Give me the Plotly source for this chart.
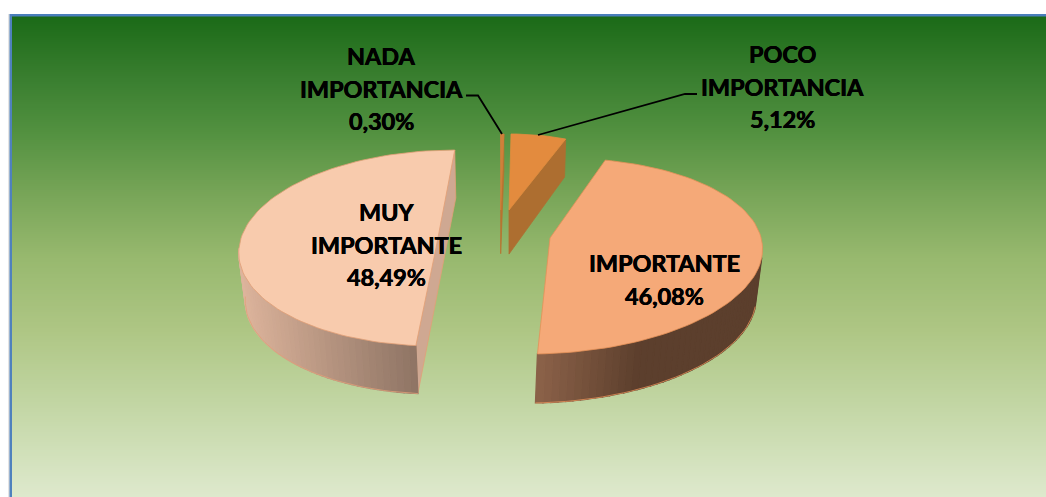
import math
import plotly.graph_objects as go

# ---- data ----
categories = ["NADA<br>IMPORTANCIA", "POCO<br>IMPORTANCIA", "IMPORTANTE", "MUY<br>IMPORTANTE"]
values = [0.30, 5.12, 46.08, 48.49]

# ---- geometry of the drawing (page pixels), one entry per slice ----
# cx, cy, a, b: ellipse; start: angle where the slice's arc starts, clockwise from top
# s: shear; apex: inner point; h0/k: wall depth; dx/sc: wall drift and convergence
geom = {
    "NADA<br>IMPORTANCIA": dict(cx=500.5, cy=232, a=175, b=98, start=0, s=0, apex=(500.7, 210),
                                h0=38, y0=139, k=0.08, dx=0, sc=0, ref=500),
    "POCO<br>IMPORTANCIA": dict(cx=511, cy=232, a=173, b=98, start=0, s=0, apex=(509, 210),
                                h0=38, y0=139, k=0.085, dx=0, sc=0.02, ref=509),
    "IMPORTANTE": dict(cx=545, cy=256, a=217, b=98, start=12, s=0.158, apex=(550, 238),
                       h0=49, y0=354, k=0, dx=-2, sc=0.02, ref=537),
    "MUY<br>IMPORTANTE": dict(cx=445, cy=248, a=206, b=98, start=185.4, s=0.1, apex=(436, 248),
                              h0=48, y0=345, k=0, dx=2, sc=0.025, ref=417),
}
style = {
    "NADA<br>IMPORTANCIA": dict(top="#D0803A", cut="#B9722F", wall=("#B9722F", "#B9722F"), edge="#D0803A"),
    "POCO<br>IMPORTANCIA": dict(top="#E38B3E", cut="#AD6E30", wall=("#AD6E30", "#AD6E30"), edge="#E38B3E"),
    "IMPORTANTE": dict(top="#F5A978", cut="#8A6047", wall=("#8C6249", "#5C3F2D"), edge="#E59058"),
    "MUY<br>IMPORTANTE": dict(top="#F8CBAD", cut="#CFA892", wall=("#DDB49C", "#8E7464"), edge="#E2A077"),
}
draw_order = ["MUY<br>IMPORTANTE", "IMPORTANTE", "NADA<br>IMPORTANCIA", "POCO<br>IMPORTANCIA"]

# centre x and y of the first text line
label_pos = {
    "NADA<br>IMPORTANCIA": (381, 56),
    "POCO<br>IMPORTANCIA": (782, 54),
    "IMPORTANTE": (664, 263),
    "MUY<br>IMPORTANTE": (386, 212),
}
line_gap = 32.5
leaders = [[(466, 95.5), (478, 95.5), (502, 134)], [(538, 135), (685, 94), (697, 94)]]

bg_stops = [(16, "#1B6A17"), (80, "#3A7F30"), (130, "#51903F"), (200, "#7BA75A"), (260, "#98B96F"),
            (330, "#AEC684"), (400, "#C1D5A2"), (497, "#DEE9CD")]


def rgb(h):
    return tuple(int(h[i:i + 2], 16) for i in (1, 3, 5))


def mix(c1, c2, t):
    a, b = rgb(c1), rgb(c2)
    return "rgb(%d,%d,%d)" % tuple(round(a[i] + (b[i] - a[i]) * t) for i in range(3))


def bg_color(y):
    for (y1, c1), (y2, c2) in zip(bg_stops, bg_stops[1:]):
        if y <= y2:
            return mix(c1, c2, max(0, (y - y1) / (y2 - y1)))
    return bg_stops[-1][1]


def arc(g, t0, t1, n):
    pts = []
    for i in range(n + 1):
        t = math.radians(t0 + (t1 - t0) * i / n)
        dy = g["b"] * math.cos(t)
        pts.append((g["cx"] + g["a"] * math.sin(t) + g["s"] * dy, g["cy"] - dy))
    return pts


def lower(g, p):
    h = g["h0"] + g["k"] * (p[1] - g["y0"])
    return (p[0] + g["dx"] - g["sc"] * (p[0] - g["ref"]), p[1] + h)


fig = go.Figure()


def poly(pts, fill, line=None, width=0.8):
    xs = [p[0] for p in pts] + [pts[0][0]]
    ys = [p[1] for p in pts] + [pts[0][1]]
    fig.add_trace(go.Scatter(x=xs, y=ys, mode="lines", fill="toself", fillcolor=fill,
                             line=dict(color=line or fill, width=width), hoverinfo="skip", showlegend=False))


total = sum(values)
for name in draw_order:
    v = values[categories.index(name)]
    g, st = geom[name], style[name]
    extent = 360 * v / total
    t0, t1 = g["start"], g["start"] + extent
    n = max(6, int(extent / 2))
    pts = arc(g, t0, t1, n)
    apex = g["apex"]
    # cut faces
    if name == "MUY<br>IMPORTANTE":
        poly([pts[-1], lower(g, pts[-1]), lower(g, pts[0]), pts[0]], st["cut"], st["edge"])
    elif name != "IMPORTANTE":
        poly([pts[-1], lower(g, pts[-1]), lower(g, apex), apex], st["cut"], None)
    # outer wall, shaded from one colour to another across the slice
    front = [p for p in pts if p[1] > g["cy"] - 1]
    if name in ("IMPORTANTE", "MUY<br>IMPORTANTE"):
        xs_f = [p[0] for p in front]
        lo, hi = min(xs_f), max(xs_f)
        for p, q in zip(front, front[1:]):
            tt = ((p[0] + q[0]) / 2 - lo) / (hi - lo)
            if name == "IMPORTANTE":
                tt = min(1, tt * 2.2)
            col = mix(st["wall"][0], st["wall"][1], tt)
            poly([p, q, lower(g, q), lower(g, p)], col, col, 1.3)
        # thin outline along the wall's lower rim
        rim = [lower(g, p) for p in front]
        fig.add_trace(go.Scatter(x=[p[0] for p in rim], y=[p[1] for p in rim], mode="lines",
                                 line=dict(color=st["edge"], width=0.8), hoverinfo="skip", showlegend=False))
    # top face
    poly([apex] + pts, st["top"], st["edge"])

# leader lines
for line in leaders:
    fig.add_trace(go.Scatter(x=[p[0] for p in line], y=[p[1] for p in line], mode="lines",
                             line=dict(color="#000000", width=1.8), hoverinfo="skip", showlegend=False))

# labels, one annotation per text line for the exact line spacing
annotations = []
for name, v in zip(categories, values):
    x, y = label_pos[name]
    lines = name.split("<br>") + [f"{v:.2f}%".replace(".", ",")]
    for i, text in enumerate(lines):
        annotations.append(dict(x=x, y=y + i * line_gap, xref="x", yref="y", showarrow=False, align="center",
                                text=f"<b>{text}</b>",
                                font=dict(family="Lato", size=23.4, color="#000000",
                                          shadow="0.35px 0 0 #000, -0.35px 0 0 #000")))

# background: vertical gradient, blue frame
shapes = [dict(type="rect", xref="x", yref="y", x0=8, x1=10, y0=14, y1=497, fillcolor="#E4E4E4",
               line_width=0, layer="below")]
for y in range(16, 497, 2):
    shapes.append(dict(type="rect", xref="x", yref="y", x0=10, x1=1046, y0=y, y1=y + 2,
                       fillcolor=bg_color(y + 1), line_width=0, layer="below"))
shapes.append(dict(type="rect", xref="x", yref="y", x0=10, x1=1046, y0=14, y1=16.5, fillcolor="#4A7EBB",
                   line_width=0, layer="below"))
shapes.append(dict(type="rect", xref="x", yref="y", x0=9.5, x1=12, y0=14, y1=497, fillcolor="#4F81BD",
                   line_width=0, layer="below"))

fig.update_layout(
    width=1046, height=497, margin=dict(l=0, r=0, t=0, b=0),
    paper_bgcolor="#FFFFFF", plot_bgcolor="rgba(0,0,0,0)", showlegend=False,
    xaxis=dict(range=[0, 1046], visible=False, fixedrange=True),
    yaxis=dict(range=[497, 0], visible=False, fixedrange=True),
    shapes=shapes, annotations=annotations,
)
fig.write_html("out.html", config=dict(displayModeBar=False), default_width="1046px", default_height="497px",
               post_script="document.documentElement.style.margin='0';document.body.style.margin='0';document.body.style.overflow='hidden';")
